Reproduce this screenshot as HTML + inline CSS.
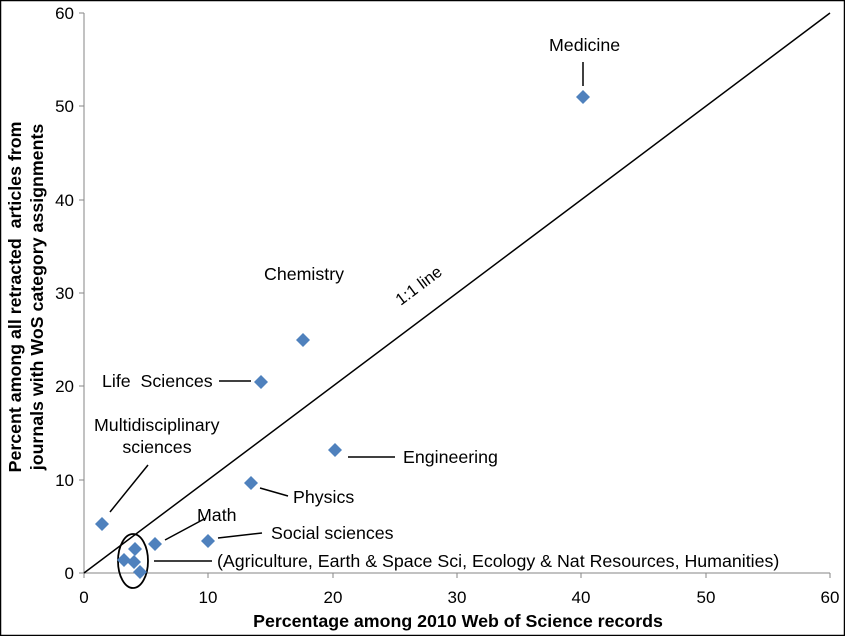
<!DOCTYPE html>
<html><head><meta charset="utf-8"><style>
html,body{margin:0;padding:0;background:#fff;}
svg{display:block;font-family:"Liberation Sans",Arial,sans-serif;}
</style></head><body>
<svg width="845" height="636" viewBox="0 0 845 636" xmlns="http://www.w3.org/2000/svg">
<rect x="0.5" y="0.5" width="844" height="635" fill="#fff" stroke="#000" stroke-width="1.5"/>
<g stroke="#868686" stroke-width="1" fill="none">
<line x1="84" y1="13" x2="84" y2="573"/>
<line x1="84" y1="573" x2="830" y2="573"/>
<line x1="79" y1="13" x2="84" y2="13"/><line x1="79" y1="106" x2="84" y2="106"/><line x1="79" y1="200" x2="84" y2="200"/><line x1="79" y1="293" x2="84" y2="293"/><line x1="79" y1="386" x2="84" y2="386"/><line x1="79" y1="480" x2="84" y2="480"/><line x1="79" y1="573" x2="84" y2="573"/>
<line x1="84" y1="573" x2="84" y2="578"/><line x1="208" y1="573" x2="208" y2="578"/><line x1="333" y1="573" x2="333" y2="578"/><line x1="457" y1="573" x2="457" y2="578"/><line x1="581" y1="573" x2="581" y2="578"/><line x1="706" y1="573" x2="706" y2="578"/><line x1="830" y1="573" x2="830" y2="578"/>
</g>
<g font-size="17" fill="#000" text-anchor="end">
<text x="74" y="19">60</text><text x="74" y="112">50</text><text x="74" y="206">40</text><text x="74" y="299">30</text><text x="74" y="392">20</text><text x="74" y="486">10</text><text x="74" y="579">0</text>
</g>
<g font-size="17" fill="#000" text-anchor="middle">
<text x="84" y="603">0</text><text x="208" y="603">10</text><text x="333" y="603">20</text><text x="457" y="603">30</text><text x="581" y="603">40</text><text x="706" y="603">50</text><text x="830" y="603">60</text>
</g>
<text x="458" y="627" font-size="17.8" font-weight="bold" text-anchor="middle">Percentage among 2010 Web of Science records</text>
<g font-size="17.8" font-weight="bold" text-anchor="middle">
<text transform="translate(21,297) rotate(-90)" xml:space="preserve">Percent among all retracted  articles from</text>
<text transform="translate(43,297) rotate(-90)">journals with WoS category assignments</text>
</g>
<line x1="84" y1="573" x2="830" y2="13" stroke="#000" stroke-width="1.5"/>
<text transform="translate(422,290) rotate(-37)" font-size="16.5" text-anchor="middle">1:1 line</text>
<g stroke="#000" stroke-width="1.5">
<line x1="583" y1="62" x2="583" y2="86"/>
<line x1="219" y1="381" x2="251" y2="381"/>
<line x1="148" y1="465" x2="110" y2="512"/>
<line x1="348" y1="457" x2="395" y2="457"/>
<line x1="260" y1="488" x2="288" y2="496"/>
<line x1="165" y1="540" x2="206" y2="518"/>
<line x1="218" y1="538" x2="262" y2="533"/>
<line x1="154" y1="561" x2="212" y2="561"/>
</g>
<ellipse cx="133" cy="561" rx="15" ry="27" fill="none" stroke="#000" stroke-width="1.8"/>
<g fill="#4f81bd">
<path d="M0,-7 L7,0 L0,7 L-7,0Z" transform="translate(102,524)"/>
<path d="M0,-7 L7,0 L0,7 L-7,0Z" transform="translate(155,544)"/>
<path d="M0,-7 L7,0 L0,7 L-7,0Z" transform="translate(208,541)"/>
<path d="M0,-7 L7,0 L0,7 L-7,0Z" transform="translate(251,483)"/>
<path d="M0,-7 L7,0 L0,7 L-7,0Z" transform="translate(261,382)"/>
<path d="M0,-7 L7,0 L0,7 L-7,0Z" transform="translate(303,340)"/>
<path d="M0,-7 L7,0 L0,7 L-7,0Z" transform="translate(335,450)"/>
<path d="M0,-7 L7,0 L0,7 L-7,0Z" transform="translate(583,97)"/>
<path d="M0,-7 L7,0 L0,7 L-7,0Z" transform="translate(135,549)"/>
<path d="M0,-7 L7,0 L0,7 L-7,0Z" transform="translate(124,560)"/>
<path d="M0,-7 L7,0 L0,7 L-7,0Z" transform="translate(134,562)"/>
<path d="M0,-7 L7,0 L0,7 L-7,0Z" transform="translate(140,572)"/>
</g>
<g font-size="17.8" fill="#000">
<text x="549" y="51">Medicine</text>
<text x="264" y="280">Chemistry</text>
<text x="102" y="387" xml:space="preserve">Life  Sciences</text>
<text x="94" y="431">Multidisciplinary</text>
<text x="157" y="453" text-anchor="middle">sciences</text>
<text x="403" y="463">Engineering</text>
<text x="293" y="503">Physics</text>
<text x="197" y="521">Math</text>
<text x="271" y="539">Social sciences</text>
<text x="217" y="567">(Agriculture, Earth &amp; Space Sci, Ecology &amp; Nat Resources, Humanities)</text>
</g>
</svg>
</body></html>
